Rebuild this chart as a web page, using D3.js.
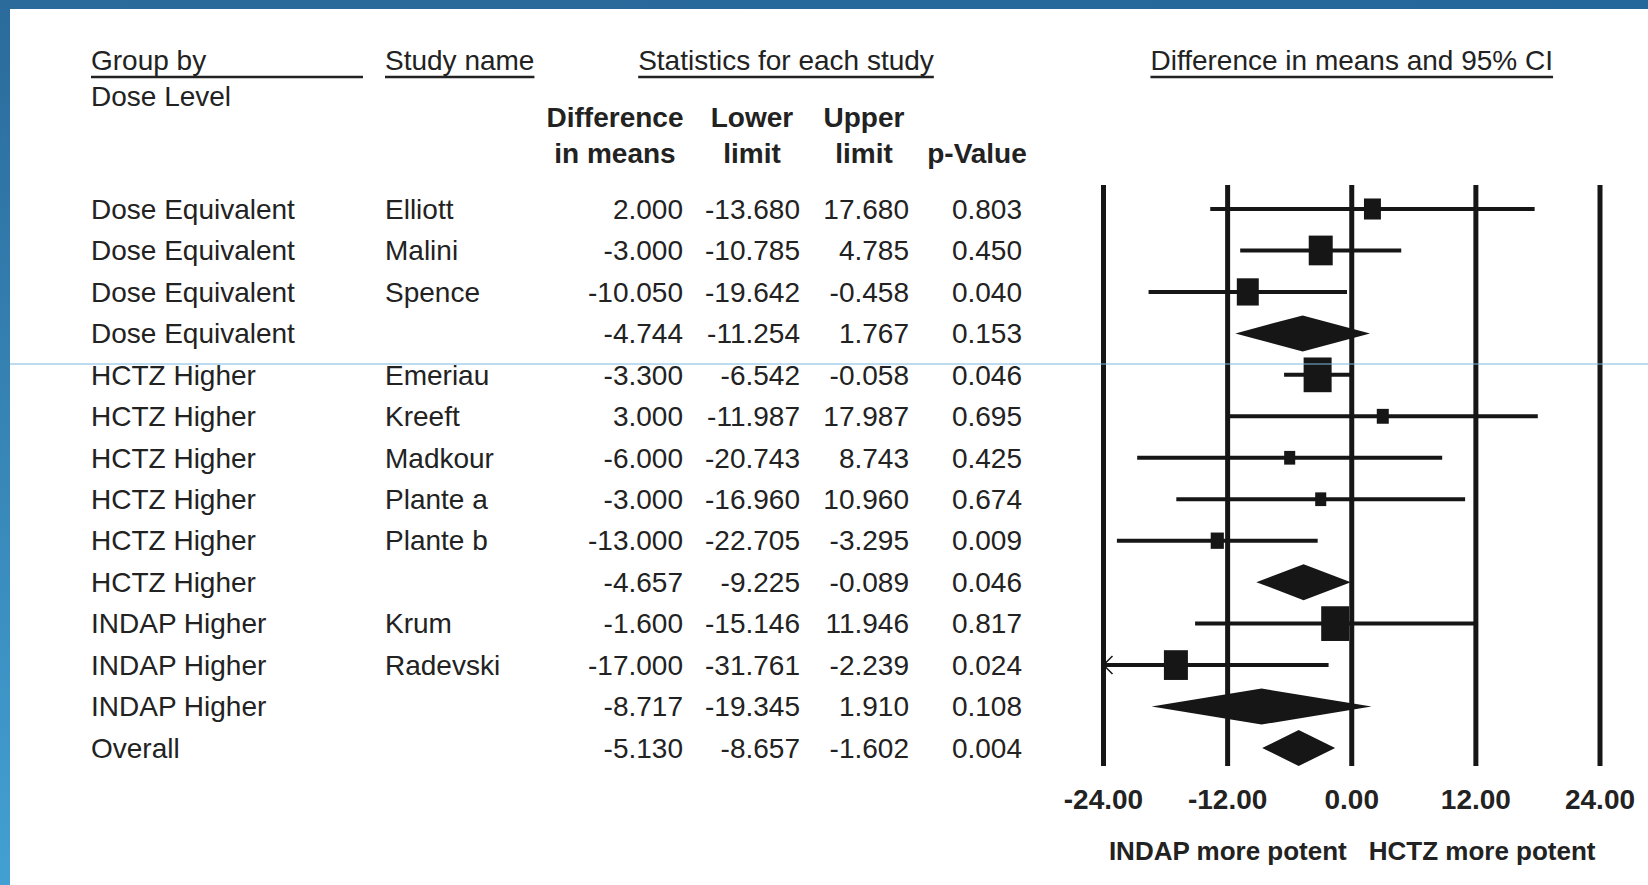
<!DOCTYPE html>
<html>
<head>
<meta charset="utf-8">
<script src="https://cdn.jsdelivr.net/npm/d3@7"></script>
<style>
  html, body { margin: 0; padding: 0; background: #fff; }
  svg text { font-family: "Liberation Sans", Arial, sans-serif; fill: #222; }
</style>
</head>
<body>
<svg id="Forest__SVG" width="1648" height="885"></svg>
<script>
// rows of the table, top to bottom
const groups = [
    'Dose Equivalent', 'Dose Equivalent', 'Dose Equivalent', 'Dose Equivalent',
    'HCTZ Higher', 'HCTZ Higher', 'HCTZ Higher', 'HCTZ Higher', 'HCTZ Higher', 'HCTZ Higher',
    'INDAP Higher', 'INDAP Higher', 'INDAP Higher', 'Overall'
];
const studies = [
    'Elliott', 'Malini', 'Spence', '',
    'Emeriau', 'Kreeft', 'Madkour', 'Plante a', 'Plante b', '',
    'Krum', 'Radevski', '', ''
];
const diffs = [2.000, -3.000, -10.050, -4.744, -3.300, 3.000, -6.000, -3.000, -13.000, -4.657, -1.600, -17.000, -8.717, -5.130];
const lowers = [-13.680, -10.785, -19.642, -11.254, -6.542, -11.987, -20.743, -16.960, -22.705, -9.225, -15.146, -31.761, -19.345, -8.657];
const uppers = [17.680, 4.785, -0.458, 1.767, -0.058, 17.987, 8.743, 10.960, -3.295, -0.089, 11.946, -2.239, 1.910, -1.602];
const pValues = [0.803, 0.450, 0.040, 0.153, 0.046, 0.695, 0.425, 0.674, 0.009, 0.046, 0.817, 0.024, 0.108, 0.004];
// relative weights (box area), null for pooled rows
const weights = [4.0, 8.0, 6.7, null, 10.9, 2.0, 1.7, 1.7, 2.4, null, 10.9, 8.0, null, null];

const axisTicks = [-24, -12, 0, 12, 24];
const leftLabel = 'INDAP more potent';
const rightLabel = 'HCTZ more potent';

const svg = d3.select('#Forest__SVG');
const width = +svg.attr('width');
const height = +svg.attr('height');

const rows = groups.map((g, i) => ({
    group: g,
    study: studies[i],
    diff: diffs[i],
    lower: lowers[i],
    upper: uppers[i],
    p: pValues[i],
    weight: weights[i],
    i: i,
}));

const x = d3.scaleLinear().domain([-24, 24]).range([1103.5, 1600]);
const y = d3.scalePoint().domain(d3.range(rows.length)).range([209, 748]);
const boxSize = d3.scaleSqrt().domain([0, d3.max(weights)]).range([0, 28]);
// plain hyphen for negatives, as in the printed table
const locale = d3.formatLocale({ decimal: '.', thousands: ',', grouping: [3], currency: ['', ''], minus: '-' });
const fmt = locale.format('.3f');
const tickFmt = locale.format('.2f');

// frame of the slide
const defs = svg.append('defs');
const gTop = defs.append('linearGradient').attr('id', 'topBand');
gTop.append('stop').attr('offset', '0%').attr('stop-color', '#2b6b9b');
gTop.append('stop').attr('offset', '100%').attr('stop-color', '#24679a');
const gLeft = defs.append('linearGradient').attr('id', 'leftBand')
    .attr('x1', 0).attr('x2', 0).attr('y1', 0).attr('y2', 1);
gLeft.append('stop').attr('offset', '0%').attr('stop-color', '#2a6b9b');
gLeft.append('stop').attr('offset', '100%').attr('stop-color', '#43a0d2');

svg.append('rect').attr('width', width).attr('height', height).attr('fill', '#fff');
svg.append('rect').attr('x', 0).attr('y', 0).attr('width', 10).attr('height', height).attr('fill', 'url(#leftBand)');
svg.append('rect').attr('x', 0).attr('y', 0).attr('width', width).attr('height', 9).attr('fill', 'url(#topBand)');

// headers
function underlined(text, xPos, anchor, lineTo) {
    const t = svg.append('text')
        .attr('x', xPos).attr('y', 70)
        .attr('font-size', 28)
        .attr('text-anchor', anchor)
        .text(text);
    const w = t.node().getComputedTextLength();
    const x0 = anchor === 'middle' ? xPos - w / 2 : xPos;
    svg.append('line')
        .attr('x1', x0).attr('x2', lineTo || x0 + w)
        .attr('y1', 77).attr('y2', 77)
        .attr('stroke', '#222').attr('stroke-width', 2.5);
}
underlined('Group by', 91, 'start', 363);
underlined('Study name', 385, 'start');
underlined('Statistics for each study', 786, 'middle');
underlined('Difference in means and 95% CI', x(0), 'middle');

svg.append('text').attr('x', 91).attr('y', 106).attr('font-size', 28).text('Dose Level');

const colHeads = [
    { x: 615, lines: ['Difference', 'in means'] },
    { x: 752, lines: ['Lower', 'limit'] },
    { x: 864, lines: ['Upper', 'limit'] },
    { x: 977, lines: ['', 'p-Value'] },
];
colHeads.forEach(c => {
    c.lines.forEach((l, k) => {
        svg.append('text')
            .attr('x', c.x).attr('y', 127 + k * 36)
            .attr('font-size', 28).attr('font-weight', 'bold')
            .attr('text-anchor', 'middle')
            .text(l);
    });
});

// table text
const table = svg.append('g').attr('class', 'table');
const cols = [
    { key: 'group', x: 91, anchor: 'start', f: d => d.group },
    { key: 'study', x: 385, anchor: 'start', f: d => d.study },
    { key: 'diff', x: 683, anchor: 'end', f: d => fmt(d.diff) },
    { key: 'lower', x: 800, anchor: 'end', f: d => fmt(d.lower) },
    { key: 'upper', x: 909, anchor: 'end', f: d => fmt(d.upper) },
    { key: 'p', x: 1022, anchor: 'end', f: d => fmt(d.p) },
];
cols.forEach(c => {
    table.selectAll('text.' + c.key)
        .data(rows)
        .join('text')
        .attr('class', c.key)
        .attr('x', c.x)
        .attr('y', d => y(d.i))
        .attr('dy', '0.35em')
        .attr('font-size', 28)
        .attr('text-anchor', c.anchor)
        .text(c.f);
});

// plot: reference lines
const plot = svg.append('g').attr('class', 'plot');
plot.selectAll('line.grid')
    .data(axisTicks)
    .join('line')
    .attr('class', 'grid')
    .attr('x1', d => x(d)).attr('x2', d => x(d))
    .attr('y1', 185).attr('y2', 766)
    .attr('stroke', '#161616').attr('stroke-width', 5);

plot.selectAll('text.tick')
    .data(axisTicks)
    .join('text')
    .attr('class', 'tick')
    .attr('x', d => x(d))
    .attr('y', 799)
    .attr('dy', '0.35em')
    .attr('text-anchor', 'middle')
    .attr('font-size', 28).attr('font-weight', 'bold')
    .text(d => tickFmt(d));

svg.append('text').attr('x', x(0) - 5).attr('y', 851).attr('dy', '0.35em')
    .attr('text-anchor', 'end').attr('font-size', 26).attr('font-weight', 'bold').text(leftLabel);
svg.append('text').attr('x', x(0) + 17).attr('y', 851).attr('dy', '0.35em')
    .attr('text-anchor', 'start').attr('font-size', 26).attr('font-weight', 'bold').text(rightLabel);

// study rows: CI whiskers and weighted boxes
const studyRows = rows.filter(d => d.weight !== null);
const lo = x.domain()[0], hi = x.domain()[1];

plot.selectAll('line.ci')
    .data(studyRows)
    .join('line')
    .attr('class', 'ci')
    .attr('x1', d => x(Math.max(d.lower, lo)))
    .attr('x2', d => x(Math.min(d.upper, hi)))
    .attr('y1', d => y(d.i)).attr('y2', d => y(d.i))
    .attr('stroke', '#161616').attr('stroke-width', 4);

// arrowhead where the interval runs off the axis
plot.selectAll('path.clip-arrow')
    .data(studyRows.filter(d => d.lower < lo))
    .join('path')
    .attr('class', 'clip-arrow')
    .attr('d', d => {
        const x0 = x(lo), y0 = y(d.i);
        return `M${x0 + 9},${y0 - 9}L${x0},${y0}L${x0 + 9},${y0 + 9}`;
    })
    .attr('fill', 'none').attr('stroke', '#161616').attr('stroke-width', 1.5);

plot.selectAll('rect.box')
    .data(studyRows)
    .join('rect')
    .attr('class', 'box')
    .attr('x', d => x(d.diff) - boxSize(d.weight) / 2)
    .attr('y', d => y(d.i) - boxSize(d.weight) * 0.62)
    .attr('width', d => boxSize(d.weight))
    .attr('height', d => boxSize(d.weight) * 1.24)
    .attr('fill', '#161616');

// pooled rows: diamonds
const summaryRows = rows.filter(d => d.weight === null);
plot.selectAll('path.diamond')
    .data(summaryRows)
    .join('path')
    .attr('class', 'diamond')
    .attr('d', d => {
        const yc = y(d.i);
        return `M${x(d.lower)},${yc}L${x(d.diff)},${yc - 18}L${x(d.upper)},${yc}L${x(d.diff)},${yc + 18}Z`;
    })
    .attr('fill', '#161616');

// stray guide line across the slide
svg.append('line')
    .attr('x1', 10).attr('x2', width)
    .attr('y1', 364).attr('y2', 364)
    .attr('stroke', '#7db8e0').attr('stroke-width', 1);
</script>
</body>
</html>
